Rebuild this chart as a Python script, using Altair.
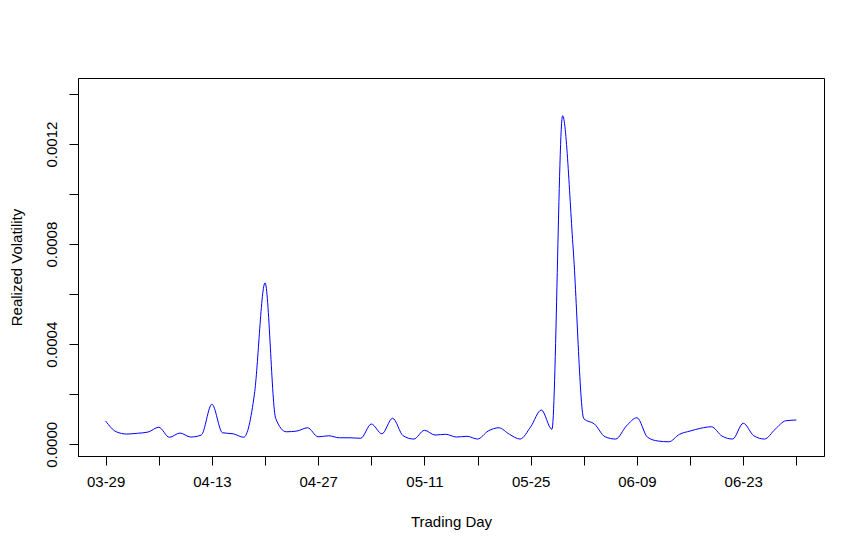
import altair as alt
import pandas as pd

# Realized volatility per trading day (index 0..65)
rv = [
    0.000093, 0.000050, 0.000041, 0.000044, 0.000049, 0.000068, 0.000028, 0.000045,
    0.000029, 0.000037, 0.000160, 0.000046, 0.000042, 0.000028, 0.000200, 0.000645,
    0.000104, 0.000050, 0.000053, 0.000066, 0.000030, 0.000034, 0.000026, 0.000026,
    0.000024, 0.000081, 0.000042, 0.000104, 0.000034, 0.000021, 0.000056, 0.000037,
    0.000040, 0.000029, 0.000032, 0.000021, 0.000053, 0.000066, 0.000040, 0.000021,
    0.000070, 0.000137, 0.000060, 0.001313, 0.000780, 0.000102, 0.000081, 0.000030,
    0.000021, 0.000073, 0.000106, 0.000028, 0.000013, 0.000010, 0.000040, 0.000053,
    0.000064, 0.000070, 0.000033, 0.000021, 0.000084, 0.000034, 0.000021, 0.000060,
    0.000094, 0.000097,
]
day_index = list(range(len(rv)))

x_tick_values = list(range(0, 66, 5))
label_index = [0, 10, 20, 30, 40, 50, 60]
label_text = ["03-29", "04-13", "04-27", "05-11", "05-25", "06-09", "06-23"]

y_tick_values = [0.0, 0.0002, 0.0004, 0.0006, 0.0008, 0.0010, 0.0012, 0.0014]

df = pd.DataFrame({"day": day_index, "rv": rv})

x_expr = " : ".join(
    f"datum.value == {i} ? '{t}'" for i, t in zip(label_index, label_text)
) + " : ''"
y_expr = "round(datum.value * 10000) % 4 == 0 ? format(datum.value, '.4f') : ''"

FONT = "Liberation Sans"

chart = (
    alt.Chart(df)
    .mark_line(color="#0000FF", strokeWidth=1, interpolate="monotone")
    .encode(
        x=alt.X(
            "day:Q",
            scale=alt.Scale(domain=[-2.6, 67.6], nice=False, zero=False),
            axis=alt.Axis(
                values=x_tick_values,
                labelExpr=x_expr,
                title="Trading Day",
                grid=False,
                tickSize=9,
                tickColor="black",
                domainColor="black",
                labelColor="black",
                labelFont=FONT,
                labelFontSize=15,
                labelPadding=9,
                labelBaseline="top",
                labelOverlap=False,
                titleFont=FONT,
                titleFontSize=15,
                titleFontWeight="normal",
                titleColor="black",
                titleBaseline="top",
                titleY=58,
            ),
        ),
        y=alt.Y(
            "rv:Q",
            scale=alt.Scale(domain=[-0.0000468, 0.001464], nice=False, zero=False),
            axis=alt.Axis(
                values=y_tick_values,
                labelExpr=y_expr,
                title="Realized Volatility",
                grid=False,
                tickSize=9,
                tickColor="black",
                domainColor="black",
                labelColor="black",
                labelFont=FONT,
                labelFontSize=15,
                labelAngle=270,
                labelAlign="center",
                labelBaseline="bottom",
                labelPadding=10,
                labelOverlap=False,
                titleFont=FONT,
                titleFontSize=15,
                titleFontWeight="normal",
                titleColor="black",
                titleAngle=270,
                titleAlign="center",
                titleBaseline="bottom",
                titleX=-54,
                titleY=189,
            ),
        ),
    )
    .properties(
        width=746,
        height=378,
        autosize=alt.AutoSizeParams(type="none"),
        padding={"left": 70, "top": 70, "right": 33, "bottom": 80},
        background="white",
    )
    .configure_view(stroke="black", strokeWidth=1)
)

chart.save("out.html", embed_options={"renderer": "svg", "actions": False})
